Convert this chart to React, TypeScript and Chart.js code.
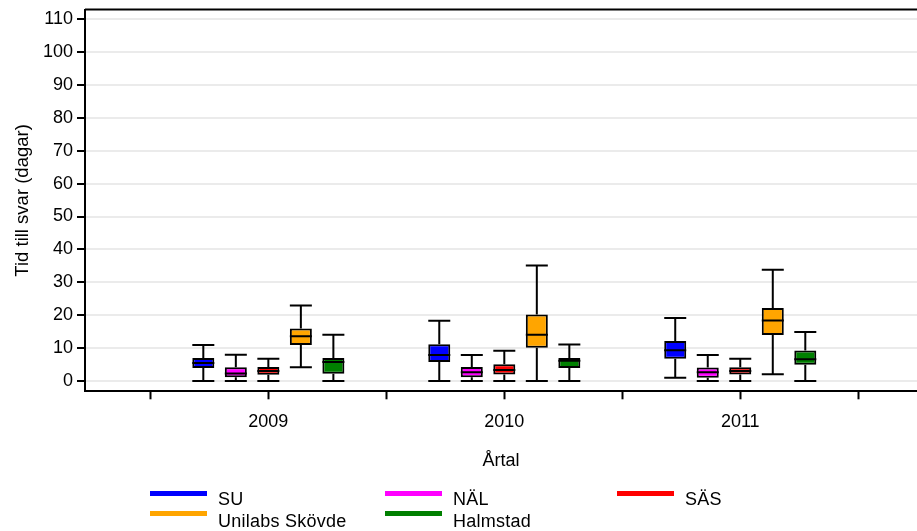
import React, { useEffect, useRef } from 'react';
import { Chart, registerables } from 'chart.js';

Chart.register(...registerables);

// ---------- DATA ----------
const years = [2009, 2010, 2011];
const labs = ['SU', 'NÄL', 'SÄS', 'Unilabs Skövde', 'Halmstad'];
const labColors = ['#0000ff', '#ff00ff', '#ff0000', '#ffa500', '#008000'];
const yTickValues = [0, 10, 20, 30, 40, 50, 60, 70, 80, 90, 100, 110];

// values per year (2009, 2010, 2011)
const suMin = [0, 0, 1];
const suQ1 = [4.0, 5.8, 6.8];
const suMed = [5.5, 7.9, 9.4];
const suQ3 = [7.0, 11.2, 12.2];
const suMax = [11, 18.3, 19.2];

const nalMin = [0, 0, 0];
const nalQ1 = [1.2, 1.2, 1.0];
const nalMed = [2.3, 2.7, 2.7];
const nalQ3 = [4.2, 4.3, 4.1];
const nalMax = [8, 7.9, 7.9];

const sasMin = [0, 0, 0];
const sasQ1 = [1.9, 2.0, 2.0];
const sasMed = [3.1, 3.4, 3.1];
const sasQ3 = [4.3, 5.1, 4.2];
const sasMax = [6.8, 9.2, 6.8];

const uniMin = [4.2, 0, 2.1];
const uniQ1 = [11.0, 10.1, 14.0];
const uniMed = [13.6, 14.1, 18.4];
const uniQ3 = [16.0, 20.2, 22.2];
const uniMax = [23, 35.1, 33.8];

const halMin = [0, 0, 0];
const halQ1 = [2.2, 4.0, 5.0];
const halMed = [5.8, 6.2, 6.6];
const halQ3 = [7.0, 7.0, 9.3];
const halMax = [14.1, 11.1, 14.9];

const mins = [suMin, nalMin, sasMin, uniMin, halMin];
const q1s = [suQ1, nalQ1, sasQ1, uniQ1, halQ1];
const meds = [suMed, nalMed, sasMed, uniMed, halMed];
const q3s = [suQ3, nalQ3, sasQ3, uniQ3, halQ3];
const maxs = [suMax, nalMax, sasMax, uniMax, halMax];

// ---------- STYLE ----------
const FONT = "'Liberation Sans', Arial, Helvetica, sans-serif";
const W = 917;
const H = 531;

const boxPlugin = {
  id: 'boxWhiskers',
  afterDatasetsDraw(chart: any) {
    const ctx = chart.ctx;
    const yScale = chart.scales.y;
    ctx.save();
    ctx.strokeStyle = '#000';
    ctx.lineWidth = 2;
    chart.data.datasets.forEach((_ds: any, d: number) => {
      const meta = chart.getDatasetMeta(d);
      meta.data.forEach((el: any, i: number) => {
        const { x, width } = el.getProps(['x', 'width'], true);
        const half = width / 2;
        const pMin = yScale.getPixelForValue(mins[d][i]);
        const pQ1 = yScale.getPixelForValue(q1s[d][i]);
        const pMed = yScale.getPixelForValue(meds[d][i]);
        const pQ3 = yScale.getPixelForValue(q3s[d][i]);
        const pMax = yScale.getPixelForValue(maxs[d][i]);
        ctx.beginPath();
        ctx.moveTo(x, pQ3);
        ctx.lineTo(x, pMax);
        ctx.moveTo(x - half, pMax);
        ctx.lineTo(x + half, pMax);
        ctx.moveTo(x, pQ1);
        ctx.lineTo(x, pMin);
        ctx.moveTo(x - half, pMin);
        ctx.lineTo(x + half, pMin);
        ctx.moveTo(x - half, pMed);
        ctx.lineTo(x + half, pMed);
        ctx.stroke();
      });
    });
    ctx.restore();
  },
  afterDraw(chart: any) {
    const { ctx, chartArea } = chart;
    ctx.save();
    ctx.strokeStyle = '#000';
    ctx.lineWidth = 2;
    ctx.beginPath();
    ctx.moveTo(chartArea.left, chartArea.top);
    ctx.lineTo(chartArea.right, chartArea.top);
    ctx.stroke();
    ctx.restore();
  },
};

// fraction of one year's width occupied by the group of 5 boxes
const groupFraction = 0.689;
const boxFraction = 0.677;

export default function App() {
  const canvasRef = useRef<HTMLCanvasElement | null>(null);

  useEffect(() => {
    if (!canvasRef.current) return;
    const xTicks: number[] = [];
    years.forEach((yr) => {
      xTicks.push(yr - 0.5, yr);
    });
    xTicks.push(years[years.length - 1] + 0.5);

    const chart = new Chart(canvasRef.current, {
      type: 'bar',
      data: {
        datasets: labs.map((lab, d) => ({
          label: lab,
          data: years.map((yr, i) => ({ x: yr, y: [q1s[d][i], q3s[d][i]] })),
          backgroundColor: labColors[d],
          borderColor: '#000',
          borderWidth: 2,
          borderSkipped: false,
          // ticks are every half-year, so the ruler width is half a year
          categoryPercentage: groupFraction * 2,
          barPercentage: boxFraction,
        })) as any,
      },
      options: {
        responsive: false,
        animation: false,
        layout: { padding: { top: 9.5, right: 0, bottom: 59.5, left: 0 } },
        plugins: {
          legend: { display: false },
          tooltip: { enabled: false },
        },
        scales: {
          x: {
            type: 'linear',
            offset: false,
            min: 2008.223,
            max: 2011.749,
            afterBuildTicks: (axis: any) => {
              axis.ticks = xTicks.map((v) => ({ value: v }));
            },
            afterFit: (scale: any) => {
              scale.paddingLeft = 0;
              scale.paddingRight = 0;
            },
            ticks: {
              autoSkip: false,
              maxRotation: 0,
              padding: 11.5,
              color: '#000',
              font: { family: FONT, size: 18 },
              callback: (v: any) => (Number.isInteger(v) ? String(v) : ''),
            },
            grid: {
              offset: false,
              drawOnChartArea: false,
              drawTicks: true,
              tickLength: 8,
              tickColor: '#000',
              tickWidth: 2,
            },
            border: { display: true, color: '#000', width: 2 },
            title: {
              display: true,
              text: 'Årtal',
              color: '#000',
              font: { family: FONT, size: 18 },
              padding: { top: 6, bottom: 0 },
            },
          },
          y: {
            type: 'linear',
            min: -3.1,
            max: 112.9,
            afterBuildTicks: (axis: any) => {
              axis.ticks = yTickValues.map((v) => ({ value: v }));
            },
            afterFit: (scale: any) => {
              scale.width = 85;
              scale.paddingTop = 0;
              scale.paddingBottom = 0;
            },
            ticks: {
              padding: 4,
              color: '#000',
              font: { family: FONT, size: 18 },
            },
            grid: {
              color: '#ebebeb',
              lineWidth: 2,
              tickLength: 8,
              tickColor: '#000',
              tickWidth: 2,
            },
            border: { display: true, color: '#000', width: 2 },
            title: {
              display: true,
              text: 'Tid till svar (dagar)',
              color: '#000',
              font: { family: FONT, size: 18.5 },
              padding: { top: 12, bottom: 0 },
            },
          },
        },
      } as any,
      plugins: [boxPlugin],
    });
    return () => chart.destroy();
  }, []);

  const colX = [150, 385, 617];
  const lineY = [493.7, 513.2];
  const textCapY = [499, 520.5];

  return (
    <div style={{ position: 'absolute', left: 0, top: 0, width: W, height: H, background: '#fff', overflow: 'hidden' }}>
      <canvas ref={canvasRef} width={W} height={H} style={{ display: 'block', width: W, height: H }} />
      {labs.map((lab, d) => {
        const col = d % 3;
        const row = Math.floor(d / 3);
        return (
          <React.Fragment key={lab}>
            <div
              style={{
                position: 'absolute',
                left: colX[col],
                top: lineY[row] - 2.5,
                width: 57,
                height: 5,
                background: labColors[d],
              }}
            />
            <div
              style={{
                position: 'absolute',
                left: colX[col] + 68,
                top: textCapY[row] - 10.8,
                height: 22,
                lineHeight: '22px',
                fontFamily: FONT,
                fontSize: 18,
                letterSpacing: '0.25px',
                color: '#000',
                whiteSpace: 'nowrap',
              }}
            >
              {lab}
            </div>
          </React.Fragment>
        );
      })}
    </div>
  );
}
